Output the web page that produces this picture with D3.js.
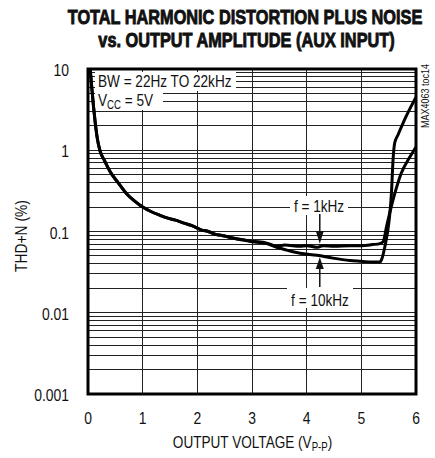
<!DOCTYPE html>
<html><head><meta charset="utf-8">
<script src="https://cdn.jsdelivr.net/npm/d3@7"></script>
<style>
html,body{margin:0;padding:0;background:#fff;}
svg{display:block;}
text{font-family:"Liberation Sans",Arial,Helvetica,sans-serif;fill:#111;}
</style></head>
<body>
<svg id="c" width="435" height="458"></svg>
<script>
// ---- data ----
const titleLines = ["TOTAL HARMONIC DISTORTION PLUS NOISE", "vs. OUTPUT AMPLITUDE (AUX INPUT)"];
const xTicks = [0, 1, 2, 3, 4, 5, 6];
const yTicks = [10, 1, 0.1, 0.01, 0.001];
const yTickLabels = ["10", "1", "0.1", "0.01", "0.001"];

const x1k = [0.04,0.07,0.10,0.13,0.17,0.22,0.30,0.40,0.55,0.71,0.86,1.00,1.16,1.30,1.46,1.60,1.77,1.90,2.08,2.20,2.32,2.50,2.65,2.80,3.00,3.27,3.45,3.60,3.88,4.00,4.20,4.30,4.50,4.80,5.00,5.20,5.34,5.40,5.46,5.52,5.61,5.73,5.89,6.00];
const thd1k = [10,5.8,3.5,2.25,1.4,0.98,0.75,0.55,0.4,0.29,0.235,0.2,0.175,0.16,0.146,0.138,0.126,0.118,0.104,0.1,0.093,0.088,0.083,0.08,0.076,0.072,0.066,0.068,0.066,0.067,0.064,0.067,0.066,0.067,0.067,0.069,0.071,0.075,0.114,0.17,0.29,0.52,0.83,1.1];

const x10k = [0.04,0.07,0.10,0.13,0.17,0.22,0.30,0.40,0.55,0.71,0.86,1.00,1.16,1.30,1.46,1.60,1.77,1.90,2.08,2.20,2.32,2.50,2.65,2.80,3.00,3.27,3.45,3.64,3.88,4.19,4.48,4.79,5.00,5.21,5.34,5.37,5.43,5.51,5.55,5.58,5.61,5.67,5.83,6.00];
const thd10k = [10,5.8,3.5,2.25,1.4,0.98,0.75,0.55,0.4,0.29,0.235,0.2,0.175,0.16,0.146,0.138,0.126,0.118,0.104,0.1,0.093,0.088,0.083,0.079,0.075,0.071,0.064,0.059,0.054,0.051,0.047,0.044,0.043,0.042,0.042,0.045,0.065,0.14,0.29,0.76,1.23,1.54,2.7,4.5];

// ---- chart ----
const svg = d3.select("#c");
const L = 88, R = 416, T = 69, B = 394;
const x = d3.scaleLinear().domain([0, 6]).range([L, R]);
const y = d3.scaleLog().domain([0.001, 10]).range([B, T]);

function txt(g, s, px, py, opts) {
  const o = Object.assign({size: 17, sx: 0.8, anchor: "start", weight: "normal", rot: 0}, opts || {});
  const t = g.append("text")
    .attr("transform", `translate(${px},${py}) rotate(${o.rot}) scale(${o.sx},1)`)
    .attr("text-anchor", o.anchor)
    .style("font-size", o.size + "px")
    .style("font-weight", o.weight);
  return t.text(s);
}

// title
txt(svg, titleLines[0], 245, 23.5, {size: 20, sx: 0.815, anchor: "middle", weight: "bold"})
  .style("stroke", "#111").style("stroke-width", "0.9px");
txt(svg, titleLines[1], 246.5, 46.5, {size: 20, sx: 0.815, anchor: "middle", weight: "bold"})
  .style("stroke", "#111").style("stroke-width", "0.9px");

// grid
const grid = svg.append("g").attr("shape-rendering", "crispEdges");
const minor = [];
for (let d = -3; d < 1; d++) for (let m = 1; m < 10; m++) minor.push(m * Math.pow(10, d));
grid.selectAll("line.h").data(minor.filter(v => v > 0.001)).enter().append("line")
  .attr("x1", L).attr("x2", R).attr("y1", d => y(d)).attr("y2", d => y(d))
  .attr("stroke", "#222").attr("stroke-width", 1);
grid.selectAll("line.v").data(d3.range(1, 6)).enter().append("line")
  .attr("x1", d => x(d)).attr("x2", d => x(d)).attr("y1", T).attr("y2", B)
  .attr("stroke", "#222").attr("stroke-width", 1);

// annotation boxes (white backgrounds)
const ann = svg.append("g");
ann.append("rect").attr("x", x(0) + 7).attr("y", 72).attr("width", 141).attr("height", 19).attr("fill", "#fff");
ann.append("rect").attr("x", x(0) + 7).attr("y", 91).attr("width", 68).attr("height", 19).attr("fill", "#fff");
ann.append("rect").attr("x", 290).attr("y", 196).attr("width", 58).attr("height", 19).attr("fill", "#fff");
ann.append("rect").attr("x", 287).attr("y", 288).attr("width", 66).attr("height", 20).attr("fill", "#fff");

txt(ann, "BW = 22Hz TO 22kHz", 98, 87);
const vcc = txt(ann, "V", 98, 106);
vcc.append("tspan").attr("dy", 3).style("font-size", "12px").text("CC");
vcc.append("tspan").attr("dy", -3).text(" = 5V");

txt(ann, "f = 1kHz", 319, 212, {anchor: "middle"});
txt(ann, "f = 10kHz", 320, 306, {anchor: "middle"});

// arrows
const ax = x(4.24);
ann.append("line").attr("x1", ax).attr("x2", ax).attr("y1", 214).attr("y2", 232).attr("stroke", "#111").attr("stroke-width", 1.5);
ann.append("path").attr("d", `M${ax-4},231L${ax+4},231L${ax},${y(0.067)-2}Z`).attr("fill", "#111");
ann.append("line").attr("x1", ax).attr("x2", ax).attr("y1", 268).attr("y2", 287).attr("stroke", "#111").attr("stroke-width", 1.5);
ann.append("path").attr("d", `M${ax-4},269L${ax+4},269L${ax},${y(0.051)+2}Z`).attr("fill", "#111");

// curves
const line = d3.line().x(d => x(d[0])).y(d => y(d[1])).curve(d3.curveMonotoneX);
const clip = svg.append("clipPath").attr("id", "clp").append("rect").attr("x", L).attr("y", T).attr("width", R - L).attr("height", B - T);
const cg = svg.append("g").attr("clip-path", "url(#clp)");
cg.append("path").datum(d3.zip(x1k, thd1k)).attr("d", line)
  .attr("fill", "none").attr("stroke", "#000").attr("stroke-width", 3).attr("stroke-linejoin", "round");
cg.append("path").datum(d3.zip(x10k, thd10k)).attr("d", line)
  .attr("fill", "none").attr("stroke", "#000").attr("stroke-width", 3).attr("stroke-linejoin", "round");

// frame
svg.append("rect").attr("x", L).attr("y", T).attr("width", R - L).attr("height", B - T)
  .attr("fill", "none").attr("stroke", "#000").attr("stroke-width", 3);

// tick labels
const axes = svg.append("g");
yTicks.forEach((v, i) => txt(axes, yTickLabels[i], 69, y(v) + 7, {anchor: "end", sx: 0.82}));
xTicks.forEach(v => txt(axes, String(v), x(v), 424, {anchor: "middle", sx: 0.82}));

// axis titles
const xt = txt(axes, "OUTPUT VOLTAGE (V", 252.5, 447.5, {anchor: "middle", sx: 0.8});
xt.append("tspan").attr("dy", 3).style("font-size", "12px").text("P-P");
xt.append("tspan").attr("dy", -3).text(")");
txt(axes, "THD+N (%)", 26.5, 236, {anchor: "middle", rot: -90, size: 16.5, sx: 0.84});

// id tag
txt(axes, "MAX4063 toc14", 429, 96, {anchor: "middle", rot: -90, size: 10, sx: 0.9});
</script>
</body></html>
